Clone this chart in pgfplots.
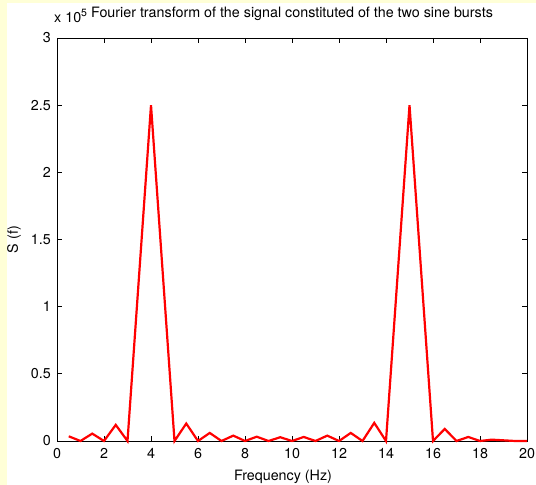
\documentclass[border=0pt]{standalone}
\usepackage{fontspec}
\setmainfont{TeX Gyre Heros}
\usepackage{pgfplots}
\pgfplotsset{compat=1.18}
\definecolor{bgyellow}{RGB}{255,255,215}
\newcommand{\bigf}{\fontsize{14.3bp}{16bp}\selectfont}
\pgfplotstableread{
f S
0.5 3500
1.0 0
1.5 5500
2.0 0
2.5 12000
3.0 0
3.5 125000
4.0 250000
4.5 125000
5.0 0
5.5 13000
6.0 0
6.5 6000
7.0 0
7.5 4000
8.0 0
8.5 3200
9.0 0
9.5 2800
10.0 0
10.5 3000
11.0 0
11.5 4000
12.0 0
12.5 6000
13.0 0
13.5 13500
14.0 0
14.5 125000
15.0 250000
15.5 125000
16.0 0
16.5 9000
17.0 0
17.5 3000
18.0 0
18.5 1000
19.0 500
19.5 0
20.0 0
}\spectrum
\begin{document}
\begin{tikzpicture}[x=1bp,y=1bp]
\fill[bgyellow] (0,0) rectangle (536,485);
\fill[white] (7,0) rectangle (536,482);
\useasboundingbox (0,0) rectangle (536,485);
\begin{axis}[
  at={(57bp,44bp)}, anchor=south west,
  scale only axis, width=470bp, height=403bp,
  xmin=0, xmax=20, ymin=0, ymax=300000,
  scaled x ticks=false, scaled y ticks=false,
  xtick={0,2,...,20},
  xticklabels={0,2,4,6,8,10,12,14,16,18,20},
  ytick={0,50000,100000,150000,200000,250000,300000},
  yticklabels={0,0.5,1,1.5,2,2.5,3},
  tick align=inside,
  major tick length=5bp,
  axis line style={line width=0.7bp},
  every tick/.style={black, line width=0.7bp},
  tick label style={font=\bigf},
  xticklabel style={anchor=base, yshift=-18bp, inner sep=0pt},
  yticklabel style={anchor=east, xshift=-6bp, inner sep=0pt},
  title={Fourier transform of the signal constituted of the two sine bursts},
  title style={font=\bigf, at={(rel axis cs:0.5,1)}, anchor=base, yshift=15bp, xshift=0bp, inner sep=0pt},
  xlabel={Frequency (Hz)},
  xlabel style={font=\bigf, at={(rel axis cs:0.5,0)}, anchor=base, yshift=-40bp, xshift=-9bp, inner sep=0pt},
  ylabel={S (f)},
  ylabel style={font=\bigf, at={(rel axis cs:0,0.5)}, anchor=center, yshift=43bp, inner sep=0pt},
  clip=false,
]
\addplot[red, line width=2.2bp, line join=miter] table[x=f, y=S] {\spectrum};
\node[font=\bigf, anchor=base west, inner sep=0pt, xshift=-3bp, yshift=15bp] at (rel axis cs:0,1) {x 10\raisebox{0.42em}{\fontsize{10.5bp}{11bp}\selectfont 5}};
\end{axis}
\end{tikzpicture}
\end{document}
